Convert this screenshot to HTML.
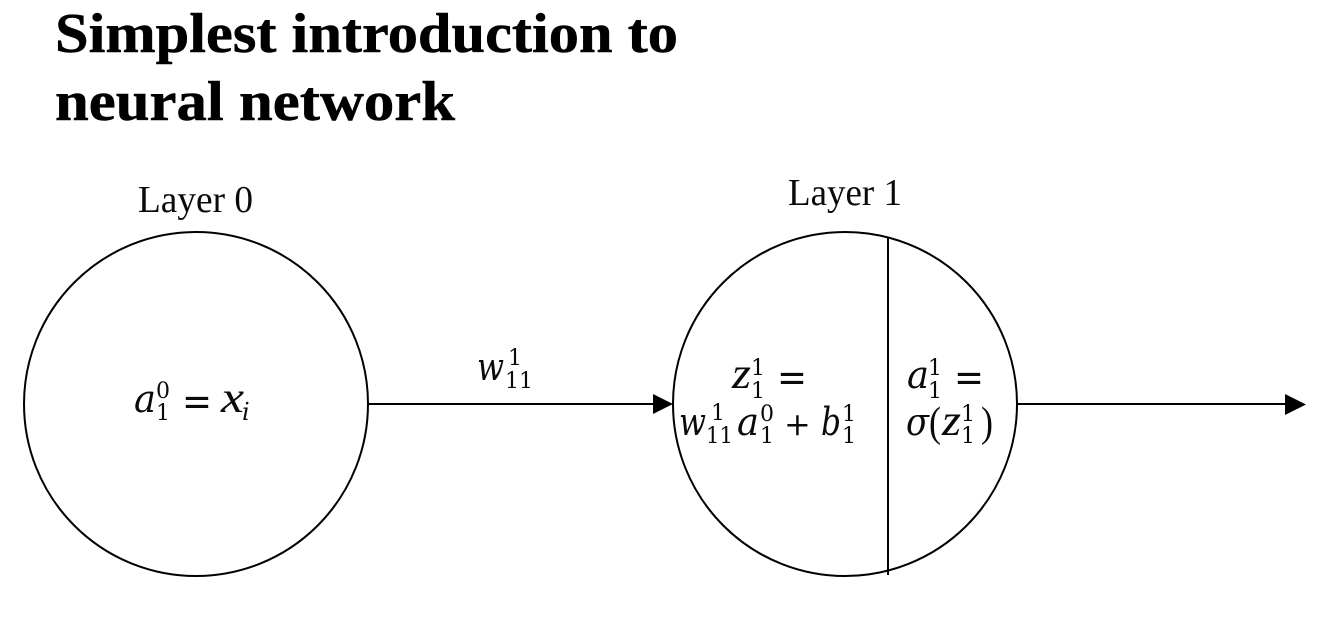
<!DOCTYPE html>
<html lang="en">
<head>
<meta charset="utf-8">
<title>Simplest introduction to neural network</title>
<style>
html,body{margin:0;padding:0;background:#fff;width:1326px;height:617px;overflow:hidden}
svg{display:block}
text{font-family:"Liberation Serif","DejaVu Serif",serif;fill:#0a0a0a}
.title{font-size:56px;font-weight:bold;fill:#000;stroke:#000;stroke-width:.5px}
.label{font-size:38px}
.v{font-family:"DejaVu Serif","Liberation Serif",serif;font-size:38px;font-style:italic}
.l{font-family:"Liberation Serif",serif;font-size:44px;font-style:italic}
.n{font-family:"DejaVu Serif","Liberation Serif",serif;font-size:22px}
.o{font-family:"DejaVu Serif","Liberation Serif",serif;font-size:40px}
.p{font-family:"DejaVu Serif","Liberation Serif",serif;font-size:32px}
.b{font-size:42px}
.s{font-family:"DejaVu Serif","Liberation Serif",serif;font-size:24px;font-style:italic}
</style>
</head>
<body>
<svg width="1326" height="617" viewBox="0 0 1326 617" xmlns="http://www.w3.org/2000/svg">
  <g>
    <text class="title" x="55" y="52" textLength="623" lengthAdjust="spacingAndGlyphs">Simplest introduction to</text>
    <text class="title" x="55" y="120" textLength="400" lengthAdjust="spacingAndGlyphs">neural network</text>
  </g>

  <text class="label" x="138" y="212" textLength="115" lengthAdjust="spacingAndGlyphs">Layer 0</text>
  <text class="label" x="788" y="205" textLength="114" lengthAdjust="spacingAndGlyphs">Layer 1</text>

  <circle cx="196" cy="404" r="172" fill="none" stroke="#000" stroke-width="2"/>
  <circle cx="845" cy="404" r="172" fill="none" stroke="#000" stroke-width="2"/>
  <line x1="888" y1="238" x2="888" y2="575" stroke="#000" stroke-width="2"/>

  <g>
    <line x1="368" y1="404" x2="656" y2="404" stroke="#000" stroke-width="2"/>
    <polygon points="653,394 673,404 653,414" fill="#000"/>
  </g>
  <g>
    <line x1="1017" y1="404" x2="1288" y2="404" stroke="#000" stroke-width="2"/>
    <polygon points="1285,394 1306,404.500 1285,415" fill="#000"/>
  </g>

  <g>
    <text class="v" x="134" y="412" textLength="22" lengthAdjust="spacingAndGlyphs">a</text>
    <text class="n" x="156" y="398">0</text>
    <text class="n" x="156" y="420">1</text>
    <text class="o" x="182" y="415" textLength="30" lengthAdjust="spacingAndGlyphs">=</text>
    <text class="l" x="221" y="412" textLength="23" lengthAdjust="spacingAndGlyphs">x</text>
    <text class="s" x="242" y="420">i</text>
  </g>

  <g>
    <text class="v" x="477" y="380" textLength="27" lengthAdjust="spacingAndGlyphs">w</text>
    <text class="n" x="508" y="365">1</text>
    <text class="n" x="505" y="388" textLength="28" lengthAdjust="spacingAndGlyphs">11</text>
  </g>

  <g>
    <text class="l" x="732" y="388" textLength="19" lengthAdjust="spacingAndGlyphs">z</text>
    <text class="n" x="751" y="375">1</text>
    <text class="n" x="751" y="398">1</text>
    <text class="o" x="777" y="391" textLength="30" lengthAdjust="spacingAndGlyphs">=</text>

    <text class="v" x="679" y="435" textLength="27" lengthAdjust="spacingAndGlyphs">w</text>
    <text class="n" x="711" y="420">1</text>
    <text class="n" x="706" y="443" textLength="27" lengthAdjust="spacingAndGlyphs">11</text>
    <text class="v" x="737" y="435" textLength="22" lengthAdjust="spacingAndGlyphs">a</text>
    <text class="n" x="760" y="421">0</text>
    <text class="n" x="760" y="443">1</text>
    <text class="p" x="784" y="435">+</text>
    <text class="v" x="821" y="435" textLength="20" lengthAdjust="spacingAndGlyphs">b</text>
    <text class="n" x="842" y="421">1</text>
    <text class="n" x="842" y="443">1</text>
  </g>

  <g>
    <text class="v" x="907" y="388" textLength="22" lengthAdjust="spacingAndGlyphs">a</text>
    <text class="n" x="928" y="375">1</text>
    <text class="n" x="928" y="398">1</text>
    <text class="o" x="954" y="391" textLength="30" lengthAdjust="spacingAndGlyphs">=</text>

    <text class="v" x="906" y="435" textLength="23" lengthAdjust="spacingAndGlyphs">σ</text>
    <text class="b" x="929" y="436" textLength="12" lengthAdjust="spacingAndGlyphs">(</text>
    <text class="l" x="942" y="435" textLength="19" lengthAdjust="spacingAndGlyphs">z</text>
    <text class="n" x="961" y="421">1</text>
    <text class="n" x="961" y="443">1</text>
    <text class="b" x="981" y="436" textLength="12" lengthAdjust="spacingAndGlyphs">)</text>
  </g>
</svg>
</body>
</html>
